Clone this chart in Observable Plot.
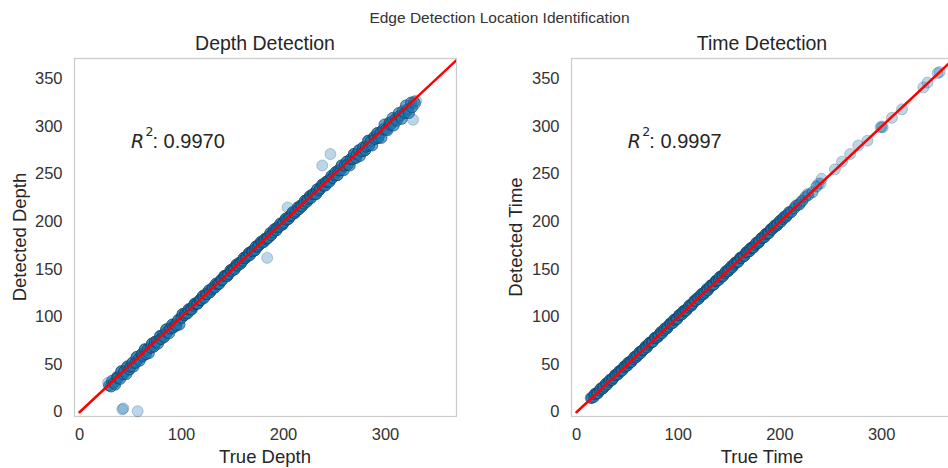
<!DOCTYPE html>
<html>
<head>
<meta charset="utf-8">
<script src="https://cdn.jsdelivr.net/npm/d3@7"></script>
<script src="https://cdn.jsdelivr.net/npm/@observablehq/plot@0.6"></script>
<style>
  html, body { margin: 0; padding: 0; background: #fff; }
  #fig { position: relative; width: 948px; height: 468px; overflow: hidden; background: #fff;
         font-family: "Liberation Sans", Arial, sans-serif; color: #333; }
  #fig > svg { position: absolute; top: 0; }
  #overlay { left: 0; pointer-events: none; }
</style>
</head>
<body>
<div id="fig"></div>
<script>
// [true, detected, number of samples with that reading] for the depth estimates
const depthPoints = [
  [28,31,1],[29,28,3],[31,27,3],[32,33,3],[34,31,5],[35,29,3],[37,37,5],[38,36,5],[40,35,3],[41,43,5],
  [43,40,5],[44,43,5],[46,40,3],[47,48,5],[49,45,5],[50,48,5],[52,52,5],[53,48,3],[55,52,5],[56,58,5],
  [58,56,5],[59,54,3],[61,61,5],[62,59,5],[64,66,5],[65,61,5],[67,66,5],[68,62,3],[70,68,5],[71,72,5],
  [73,69,5],[74,74,5],[76,74,5],[77,72,3],[79,80,5],[80,77,5],[82,81,5],[83,79,5],[85,87,5],[86,84,5],
  [88,83,3],[89,88,5],[91,92,5],[92,89,5],[94,92,5],[95,91,5],[97,97,5],[98,92,3],[100,99,5],[101,103,5],
  [103,102,5],[104,104,5],[106,104,5],[107,108,5],[109,108,5],[110,108,5],[112,112,5],[113,114,5],[115,114,5],[116,114,5],
  [118,118,5],[119,118,5],[121,122,5],[122,120,5],[124,124,5],[125,124,5],[127,128,5],[128,126,5],[130,129,5],[131,131,5],
  [133,131,5],[134,135,5],[136,135,5],[137,135,5],[139,139,5],[140,139,5],[142,143,5],[143,143,5],[145,143,5],[146,145,5],
  [148,149,5],[149,148,5],[151,151,5],[152,150,5],[154,155,5],[155,154,5],[157,157,5],[158,156,5],[160,159,5],[161,162,5],
  [163,162,5],[164,164,5],[166,167,5],[167,165,5],[169,169,5],[170,169,5],[172,170,5],[173,174,5],[175,174,5],[176,176,5],
  [178,179,5],[179,178,5],[181,179,5],[182,182,5],[184,183,5],[185,183,5],[187,188,5],[188,186,5],[190,189,5],[191,192,5],
  [193,191,5],[194,194,5],[196,195,5],[197,198,5],[199,197,5],[200,199,5],[202,203,5],[203,202,5],[205,203,5],[206,206,5],
  [208,207,5],[209,210,5],[211,209,5],[212,211,5],[214,215,5],[215,213,5],[217,217,5],[218,216,5],[220,219,5],[221,222,5],
  [223,221,5],[224,224,5],[226,227,5],[227,225,5],[229,229,5],[230,229,5],[232,229,5],[233,234,5],[235,233,5],[236,235,5],
  [238,239,5],[239,238,5],[241,238,5],[242,242,5],[244,243,5],[245,242,5],[247,248,5],[248,246,5],[250,249,5],[251,252,5],
  [253,249,5],[254,254,5],[256,254,5],[257,259,5],[259,254,3],[260,259,5],[262,263,5],[263,260,5],[265,259,3],[266,266,5],
  [268,266,5],[269,271,5],[271,267,5],[272,271,5],[274,275,5],[275,269,3],[277,274,5],[278,278,5],[280,275,5],[281,279,5],
  [283,285,5],[284,280,5],[286,285,5],[287,280,3],[289,289,5],[290,287,5],[292,293,5],[293,288,5],[295,293,5],[296,288,3],
  [298,297,5],[299,302,3],[301,297,5],[302,296,3],[304,304,5],[305,302,5],[307,309,3],[308,301,3],[310,308,5],[311,306,3],
  [313,314,3],[314,311,5],[316,308,3],[317,316,3],[319,314,4],[320,322,3],[322,318,3],[323,314,3],[325,325,3],[326,320,3],
  [328,326,2],[329,324,2],[330,327,1],
  [42,3,1],[43,4,1],[57,1,1],[184,162,1],[204,215,1],[238,259,1],[246,271,1],[327,307,1]
];

// [true, detected, number of samples with that reading] for the time estimates
const timePoints = [
  [14,15,2],[15,15,3],[17,16,4],[18,19,5],[20,20,5],[21,20,5],[23,23,5],[24,25,5],[26,25,5],[27,27,5],
  [29,30,5],[30,29,5],[32,32,5],[33,34,5],[35,34,5],[36,36,5],[38,39,5],[39,39,5],[41,40,5],[42,43,5],
  [44,44,5],[45,44,5],[47,48,5],[48,48,5],[50,49,5],[51,52,5],[53,53,5],[54,53,5],[56,56,5],[57,58,5],
  [59,58,5],[60,60,5],[62,63,5],[63,62,5],[65,65,5],[66,66,5],[68,69,5],[69,68,5],[71,71,5],[72,73,5],
  [74,74,5],[75,74,5],[77,78,5],[78,78,5],[80,79,5],[81,81,5],[83,84,5],[84,83,5],[86,86,5],[87,88,5],
  [89,88,5],[90,90,5],[92,93,5],[93,93,5],[95,94,5],[96,97,5],[98,98,5],[99,98,5],[101,102,5],[102,102,5],
  [104,103,5],[105,106,5],[107,107,5],[108,107,5],[110,110,5],[111,112,5],[113,112,5],[114,114,5],[116,117,5],[117,117,5],
  [119,120,5],[120,119,5],[122,122,5],[123,124,5],[125,124,5],[126,126,5],[128,129,5],[129,128,5],[131,131,5],[132,133,5],
  [134,134,5],[135,134,5],[137,138,5],[138,138,5],[140,139,5],[141,142,5],[143,143,5],[144,143,5],[146,146,5],[147,148,5],
  [149,148,5],[150,150,5],[152,153,5],[153,152,5],[155,155,5],[156,157,5],[158,158,5],[159,158,5],[161,162,5],[162,162,5],
  [164,164,5],[165,164,5],[167,168,5],[168,168,5],[170,169,5],[171,172,5],[173,173,5],[174,173,5],[176,176,5],[177,178,5],
  [179,178,5],[180,180,5],[182,183,5],[183,183,5],[185,184,5],[186,187,5],[188,188,5],[189,188,5],[191,192,5],[192,192,5],
  [194,194,5],[195,196,5],[197,196,5],[198,198,5],[200,201,4],[201,200,4],[203,203,4],[204,205,4],[206,205,4],[207,207,4],
  [209,210,4],[211,210,4],[214,214,3],[216,217,3],[219,218,3],[222,222,3],[225,226,2],[228,228,2],[232,231,2],[236,237,2],
  [240,240,1],
  [220,220,1],[227,229,1],[238,240,1],[241,245,1],[254,255,1],[261,263,1],[269,271,1],[277,280,1],[286,285,1],
  [299,299,1],[300,300,1],[301,299,1],[310,309,1],[320,318,1],[341,341,1],[345,346,1],[355,356,1],[357,357,1]
];

const r2Depth = "0.9970";
const r2Time = "0.9997";
const xTicks = [0, 100, 200, 300];
const yTicks = [0, 50, 100, 150, 200, 250, 300, 350];
const identity = [0, 372];   // y = x reference line

const xDomain = [-4.9, 369.6];
const yDomain = [-4.5, 371.3];
const FONT = '"Liberation Sans", Arial, sans-serif';

// one dot per sample
const samples = rows => rows.flatMap(([t, d, n]) => Array.from({length: n}, () => ({t, d})));

function panel(points, r2, {width, marginLeft, marginRight}) {
  return Plot.plot({
    width, height: 468,
    marginTop: 58, marginBottom: 52, marginLeft, marginRight,
    style: {fontFamily: FONT, color: "#333", background: "transparent", overflow: "visible"},
    x: {domain: xDomain},
    y: {domain: yDomain},
    marks: [
      Plot.frame({stroke: "#cccccc", strokeWidth: 1.25}),
      Plot.axisX({ticks: xTicks, tickSize: 0, tickPadding: 12, fontSize: 16.5, label: null}),
      Plot.axisY({ticks: yTicks, tickSize: 0, tickPadding: 12, fontSize: 16.5, label: null}),
      Plot.dot(samples(points), {
        x: "t", y: "d", r: 5.5,
        fill: "#1f77b4", fillOpacity: 0.3,
        stroke: "#12405f", strokeOpacity: 0.25, strokeWidth: 1
      }),
      Plot.line(identity, {x: d => d, y: d => d, stroke: "red", strokeWidth: 2.5, clip: true}),
      Plot.text([r2], {x: 50.5, y: 277, text: () => "R", fontStyle: "italic",
        fontFamily: '"DejaVu Sans", sans-serif', fontSize: 19, textAnchor: "start",
        lineAnchor: "bottom", fill: "#262626"}),
      Plot.text([r2], {x: 50.5, y: 277, text: () => "2", dx: 14.5, dy: -12,
        fontFamily: '"DejaVu Sans", sans-serif', fontSize: 12.5, textAnchor: "start",
        lineAnchor: "bottom", fill: "#262626"}),
      Plot.text([r2], {x: 50.5, y: 277, text: d => ": " + d, dx: 21.5,
        fontSize: 20, textAnchor: "start", lineAnchor: "bottom", fill: "#262626"})
    ]
  });
}

const fig = document.getElementById("fig");
const left = panel(depthPoints, r2Depth, {width: 474, marginLeft: 74, marginRight: 18});
left.style.left = "0px";
fig.appendChild(left);
const right = panel(timePoints, r2Time, {width: 481, marginLeft: 97, marginRight: 3});
right.style.left = "474px";
fig.appendChild(right);

// Figure title, panel titles and axis titles
const overlay = d3.create("svg").attr("id", "overlay")
  .attr("width", 948).attr("height", 468)
  .style("font-family", FONT).attr("fill", "#262626");
overlay.append("text").attr("x", 499.5).attr("y", 23).attr("text-anchor", "middle")
  .attr("font-size", 15.5).attr("fill", "#333").text("Edge Detection Location Identification");
const labels = [
  {cx: 265, title: "Depth Detection", xlab: "True Depth", ylab: "Detected Depth", yx: 25.5},
  {cx: 762, title: "Time Detection", xlab: "True Time", ylab: "Detected Time", yx: 522}
];
for (const p of labels) {
  overlay.append("text").attr("x", p.cx).attr("y", 50).attr("text-anchor", "middle")
    .attr("font-size", 19.5).text(p.title);
  overlay.append("text").attr("x", p.cx).attr("y", 462.5).attr("text-anchor", "middle")
    .attr("font-size", 18.5).text(p.xlab);
  overlay.append("text").attr("transform", `translate(${p.yx},237) rotate(-90)`)
    .attr("text-anchor", "middle").attr("font-size", 18.5).text(p.ylab);
}
fig.appendChild(overlay.node());
</script>
</body>
</html>
